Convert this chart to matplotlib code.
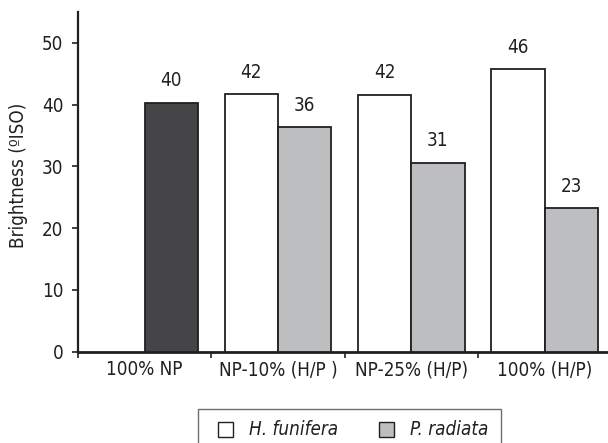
import matplotlib
matplotlib.use("Agg")
import matplotlib.pyplot as plt
from matplotlib.patches import Rectangle
import numpy as np

plt.rcParams['font.family'] = ['DejaVu Sans']
plt.rcParams['font.stretch'] = 'condensed'

categories = ["100% NP", "NP-10% (H/P )", "NP-25% (H/P)", "100% (H/P)"]
np_value = 40.3
h_funifera = [None, 41.7, 41.6, 45.7]
p_radiata = [None, 36.3, 30.6, 23.2]
np_label = "40"
h_labels = [None, "42", "42", "46"]
p_labels = [None, "36", "31", "23"]
series_names = ["H. funifera", "P. radiata"]

W, H = 608, 443
fig = plt.figure(figsize=(W / 100, H / 100), dpi=100)
ax = fig.add_axes([78 / W, (H - 351.7) / H, (W - 78) / W, (351.7 - 12) / H])

x = np.arange(len(categories))
bw = 0.4
edge = "#231f20"
txt = "#231f20"
white = "#ffffff"
grey = "#bcbec0"
dark = "#454547"
fs = 13.5
gap = 2.0

# pure newsprint reference bar, drawn in the second slot of the first group
ax.bar(x[0] + bw / 2, np_value, bw, color=dark, edgecolor=edge, linewidth=1.3, zorder=3)
ax.text(x[0] + bw / 2, np_value + gap, np_label, ha="center", va="bottom", fontsize=fs, color=txt)

for i in range(1, len(categories)):
    ax.bar(x[i] - bw / 2, h_funifera[i], bw, color=white, edgecolor=edge, linewidth=1.3, zorder=3)
    ax.bar(x[i] + bw / 2, p_radiata[i], bw, color=grey, edgecolor=edge, linewidth=1.3, zorder=3)
    ax.text(x[i] - bw / 2, h_funifera[i] + gap, h_labels[i], ha="center", va="bottom", fontsize=fs, color=txt)
    ax.text(x[i] + bw / 2, p_radiata[i] + gap, p_labels[i], ha="center", va="bottom", fontsize=fs, color=txt)

ax.set_ylim(0, 55)
ax.set_xlim(-0.5, -0.5 + (W - 78) / 133.3)
ax.set_yticks([0, 10, 20, 30, 40, 50])
ax.tick_params(axis="y", labelsize=fs, length=4.5, width=1.2, color=edge, labelcolor=txt, pad=6)

ax.set_xticks([-0.5, 0.5, 1.5, 2.5])
ax.set_xticklabels([])
ax.set_xticks(x, minor=True)
ax.set_xticklabels(categories, minor=True)
ax.tick_params(axis="x", which="major", length=4, width=1.2, color=edge)
ax.tick_params(axis="x", which="minor", length=0, labelsize=fs, labelcolor=txt, pad=6)

for s in ["top", "right"]:
    ax.spines[s].set_visible(False)
ax.spines["left"].set_linewidth(1.6)
ax.spines["bottom"].set_linewidth(2.0)
for s in ["left", "bottom"]:
    ax.spines[s].set_color(edge)

fig.text(19 / W, 1 - 175 / H, "Brightness (ºISO)", rotation=90, ha="center", va="center",
         fontsize=13.5, color=txt)

# legend box along the bottom edge
px = lambda v: v / W
py = lambda v: 1 - v / H
fig.patches.append(Rectangle((px(198), py(446)), px(501) - px(198), py(409) - py(446),
                             transform=fig.transFigure, facecolor="none",
                             edgecolor="#6d6e71", linewidth=1.0))
swatches = [(218, white), (379, grey)]
for (sx, col), name in zip(swatches, series_names):
    fig.patches.append(Rectangle((px(sx), py(437)), px(15), 15 / H,
                                 transform=fig.transFigure, facecolor=col,
                                 edgecolor=edge, linewidth=1.0))
    fig.text(px(sx + 31), py(429.5), name, ha="left", va="center", fontsize=fs,
             fontstyle="italic", color=txt)

fig.savefig("out.png", dpi=100)
